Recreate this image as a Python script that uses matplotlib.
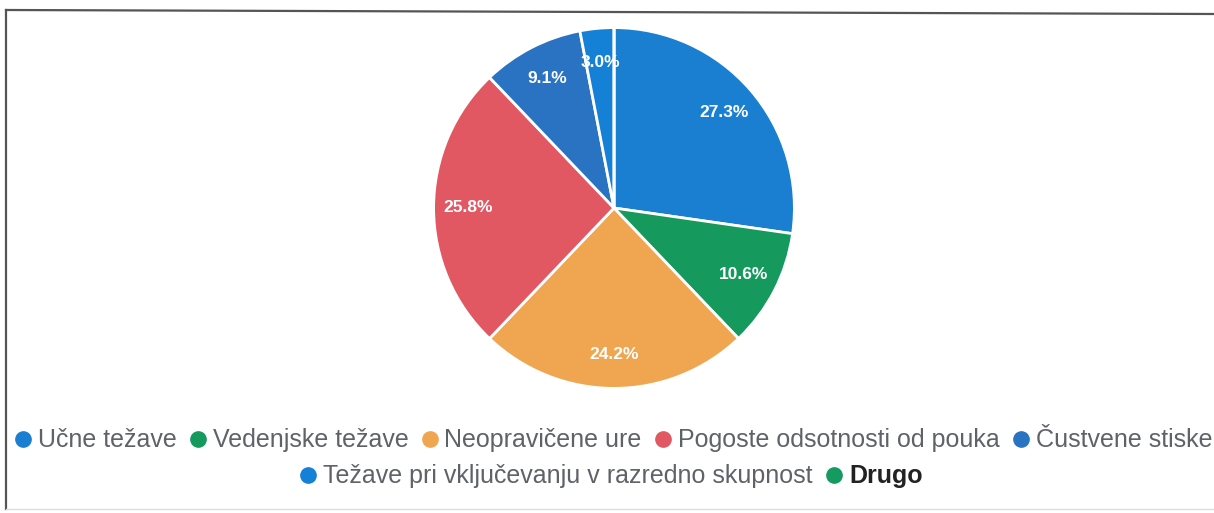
import matplotlib
matplotlib.use("Agg")
import matplotlib.pyplot as plt
from matplotlib.lines import Line2D

plt.rcParams['font.family'] = ['Liberation Sans', 'DejaVu Sans']

# Odgovori (število) po kategorijah
kategorije = ["Učne težave", "Vedenjske težave", "Neopravičene ure",
              "Pogoste odsotnosti od pouka", "Čustvene stiske",
              "Težave pri vključevanju v razredno skupnost", "Drugo"]
odgovori = [18, 7, 16, 17, 6, 2, 0]
barve = ["#1a7fd0", "#15995c", "#f0a650", "#e25862", "#2a72c2", "#1480d6", "#159a62"]
vrstice_legende = [[0, 1, 2, 3, 4], [5, 6]]

W, H = 1214, 513
fig = plt.figure(figsize=(W / 100, H / 100), dpi=100)

# Okvir (levo, zgoraj, spodaj)
fig.add_artist(Line2D([6 / W, 6 / W], [1 - 10 / H, 1 - 509 / H], color="#555555", lw=1.6))
fig.add_artist(Line2D([6 / W, 1], [1 - 10 / H, 1 - 14 / H], color="#555555", lw=1.6))
fig.add_artist(Line2D([6 / W, 1], [1 - 509 / H, 1 - 509 / H], color="#dddddd", lw=1.0))

# Tortni diagram
cx, cy, r = 614, 208, 184
ax = fig.add_axes([(cx - r) / W, 1 - (cy + r) / H, 2 * r / W, 2 * r / H])


def odstotek(p):
    return f"{p:.1f}%" if p > 0 else ""


wedges, _, autotexts = ax.pie(odgovori, colors=barve, startangle=90, counterclock=False,
                              autopct=odstotek, pctdistance=0.81, radius=1,
                              wedgeprops=dict(edgecolor="white", linewidth=2))
for t in autotexts:
    t.set_color("white")
    t.set_fontweight("bold")
    t.set_fontsize(12.5)
ax.set_xlim(-1.02, 1.02)
ax.set_ylim(-1.02, 1.02)
ax.set_aspect("equal")
ax.axis("off")

# Legenda v dveh vrsticah, centrirano
fig.canvas.draw()
renderer = fig.canvas.get_renderer()
vrstica_y = [440, 476]
sredina_x = [614, 612]
fs = 18
do_teksta = 15   # od središča kroga do začetka besedila
do_kroga = 21    # od konca besedila do središča naslednjega kroga
for vi, vrstica in enumerate(vrstice_legende):
    elementi = []
    for i in vrstica:
        barva_teksta = "#222222" if kategorije[i] == "Drugo" else "#5f6368"
        teza = "bold" if kategorije[i] == "Drugo" else "normal"
        t = fig.text(0, 1 - vrstica_y[vi] / H, kategorije[i], fontsize=fs,
                     color=barva_teksta, fontweight=teza, va="center", ha="left")
        w = t.get_window_extent(renderer).width
        elementi.append((i, t, w))
    skupaj = 7 + sum(do_teksta + w for _, _, w in elementi) + do_kroga * (len(elementi) - 1)
    x = sredina_x[vi] - skupaj / 2 + 7
    for i, t, w in elementi:
        fig.add_artist(Line2D([x / W], [1 - (vrstica_y[vi] - 1) / H], marker="o",
                              markersize=11, color=barve[i], linestyle="none"))
        t.set_x((x + do_teksta) / W)
        x += do_teksta + w + do_kroga

fig.savefig("out.png", dpi=100, facecolor="white")
